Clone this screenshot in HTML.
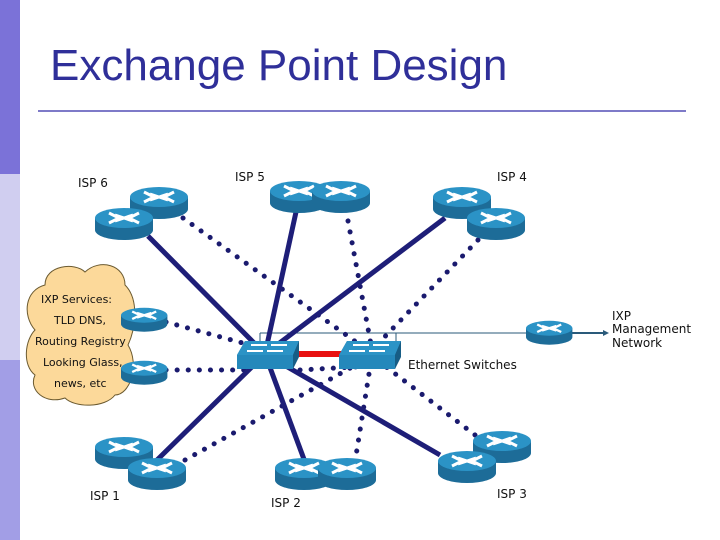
<!DOCTYPE html>
<html><head><meta charset="utf-8"><style>
body{margin:0;width:720px;height:540px;background:#fff;overflow:hidden;position:relative;font-family:"Liberation Sans",sans-serif}
</style></head><body>
<svg width="720" height="540" xmlns="http://www.w3.org/2000/svg" style="position:absolute;left:0;top:0">
<defs>
<g id="r">
<path d="M0,11 L0,23 A29,10 0 0 0 58,23 L58,11 Z" fill="#1d6c98"/>
<ellipse cx="29" cy="11" rx="29" ry="10" fill="#2b93c6"/>
<g stroke="#fff" stroke-width="3" fill="none">
<path d="M14,6 L24,11 L14,16 M44,6 L34,11 L44,16 M20,8 L38,14 M20,14 L38,8"/>
</g>
</g>
<g id="s">
<path d="M8,0 L62,0 L60,18 L56,28 L0,28 L0,14 Z" fill="#1d6c98"/>
<path d="M8,0 L62,0 L56,14 L0,14 Z" fill="#2b93c6"/>
<rect x="0" y="14" width="56" height="14" fill="#2488bb"/>
<path d="M56,14 L62,0 L62,16 L56,28Z" fill="#175d85"/>
<g stroke="#fff" stroke-width="2"><path d="M14,4 L30,4 M34,4 L50,4 M10,10 L26,10 M30,10 L46,10"/></g>
</g>
</defs>
<rect x="0" y="0" width="20" height="174" fill="#7b72d8"/>
<rect x="0" y="174" width="20" height="186" fill="#d0cef0"/>
<rect x="0" y="360" width="20" height="180" fill="#a29ee6"/>
<text x="50" y="80" font-size="44" fill="#2f2f99" font-family="Liberation Sans,sans-serif">Exchange Point Design</text>
<line x1="38" y1="111" x2="686" y2="111" stroke="#7e7ac8" stroke-width="2"/>
<path d="M45,285 C45,265 75,262 85,272 C100,258 125,265 125,285 C140,300 135,330 128,345 C140,365 130,395 115,395 C105,408 75,408 65,398 C45,405 28,390 35,375 C22,365 25,340 35,330 C22,315 25,290 45,285 Z" fill="#fcd99a" stroke="#6b5a30" stroke-width="1"/>
<g font-family="DejaVu Sans,sans-serif" font-size="11" fill="#111">
<text x="41" y="303">IXP Services:</text>
<text x="54" y="324">TLD DNS,</text>
<text x="35" y="345">Routing Registry</text>
<text x="43" y="366">Looking Glass,</text>
<text x="54" y="387">news, etc</text>
<text x="78" y="187" font-size="12">ISP 6</text>
<text x="235" y="181" font-size="12">ISP 5</text>
<text x="497" y="181" font-size="12">ISP 4</text>
<text x="90" y="500" font-size="12">ISP 1</text>
<text x="271" y="507" font-size="12">ISP 2</text>
<text x="497" y="498" font-size="12">ISP 3</text>
<text x="408" y="369" font-size="12">Ethernet Switches</text>
<text x="612" y="320" font-size="12">IXP</text>
<text x="612" y="333" font-size="12">Management</text>
<text x="612" y="347" font-size="12">Network</text>
</g>
<line x1="260" y1="333" x2="526" y2="333" stroke="#2a5a7a" stroke-width="1"/>
<line x1="572" y1="333" x2="605" y2="333" stroke="#2a5a7a" stroke-width="2"/>
<path d="M603,330 L609,333 L603,336Z" fill="#2a5a7a"/>
<line x1="260" y1="333" x2="260" y2="345" stroke="#2a5a7a"/>
<line x1="396" y1="333" x2="396" y2="345" stroke="#2a5a7a"/>
<g stroke="#1a1a6e" stroke-width="5" stroke-linecap="round" stroke-dasharray="0.1 11" fill="none">
<line x1="183" y1="218" x2="370" y2="352"/>
<line x1="346" y1="210" x2="372" y2="350"/>
<line x1="478" y1="240" x2="372" y2="350"/>
<line x1="166" y1="322" x2="250" y2="345"/>
<line x1="166" y1="370" x2="250" y2="370"/>
<line x1="185" y1="460" x2="370" y2="357"/>
<line x1="355" y1="462" x2="372" y2="355"/>
<line x1="475" y1="435" x2="372" y2="356"/>
<line x1="300" y1="370" x2="390" y2="365"/>
</g>
<g stroke="#1e1e78" stroke-width="5" fill="none">
<line x1="148" y1="236" x2="265" y2="354"/>
<line x1="296" y1="212" x2="265" y2="354"/>
<line x1="445" y1="218" x2="265" y2="354"/>
<line x1="155" y1="462" x2="265" y2="354"/>
<line x1="305" y1="462" x2="265" y2="354"/>
<line x1="440" y1="455" x2="265" y2="354"/>
</g>
<line x1="295" y1="354" x2="342" y2="354" stroke="#e81010" stroke-width="6"/>
<use href="#r" x="130" y="186"/><use href="#r" x="95" y="207"/>
<use href="#r" x="270" y="180"/><use href="#r" x="312" y="180"/>
<use href="#r" x="433" y="186"/><use href="#r" x="467" y="207"/>
<use href="#r" transform="translate(121,307) scale(0.8,0.75)"/>
<use href="#r" transform="translate(121,360) scale(0.8,0.75)"/>
<use href="#r" transform="translate(526,320) scale(0.8,0.75)"/>
<use href="#r" x="95" y="436"/><use href="#r" x="128" y="457"/>
<use href="#r" x="275" y="457"/><use href="#r" x="318" y="457"/>
<use href="#r" x="473" y="430"/><use href="#r" x="438" y="450"/>
<use href="#s" x="237" y="341"/><use href="#s" x="339" y="341"/>
</svg>
</body></html>
